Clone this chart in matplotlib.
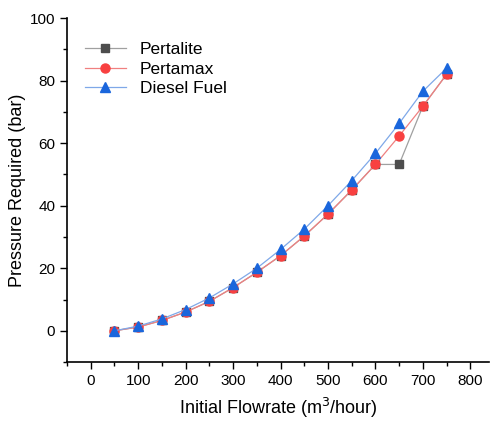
import matplotlib
matplotlib.use("Agg")
import matplotlib.pyplot as plt
from matplotlib.ticker import MultipleLocator

plt.rcParams['font.family'] = ['Liberation Sans', 'DejaVu Sans']

flowrate = [50, 100, 150, 200, 250, 300, 350, 400, 450, 500, 550, 600, 650, 700, 750]
pertalite = [0, 1.2, 3.3, 6.0, 9.4, 13.8, 18.7, 24.0, 30.3, 37.3, 45.0, 53.2, 53.2, 71.8, 82.0]
pertamax = [0, 1.2, 3.3, 6.0, 9.4, 13.8, 18.7, 24.0, 30.3, 37.3, 45.0, 53.2, 62.3, 71.8, 82.0]
diesel = [0, 1.5, 3.8, 6.8, 10.5, 15.0, 20.0, 26.0, 32.5, 40.0, 48.0, 56.7, 66.3, 76.6, 84.0]

fig = plt.figure(figsize=(4.91, 4.21), dpi=100)
ax = fig.add_axes([0.1365, 0.140, 0.86, 0.817])

ax.plot(flowrate, pertalite, color='#a0a0a0', lw=0.9, marker='s', ms=5.5,
        mfc='#4d4d4d', mec='#4d4d4d', label='Pertalite')
ax.plot(flowrate, pertamax, color='#f08080', lw=0.9, marker='o', ms=6.5,
        mfc='#f84040', mec='#f84040', label='Pertamax')
ax.plot(flowrate, diesel, color='#7fa8e8', lw=0.9, marker='^', ms=7,
        mfc='#1a66dc', mec='#1a66dc', label='Diesel Fuel')

ax.set_xlim(-50, 840)
ax.set_ylim(-10, 100)
ax.xaxis.set_minor_locator(MultipleLocator(50))
ax.yaxis.set_minor_locator(MultipleLocator(10))
ax.set_xticks([0, 100, 200, 300, 400, 500, 600, 700, 800])
ax.set_yticks([0, 20, 40, 60, 80, 100])

ax.spines['top'].set_visible(False)
ax.spines['right'].set_visible(False)
ax.spines['left'].set_linewidth(1.2)
ax.spines['bottom'].set_linewidth(1.2)
ax.tick_params(which='major', direction='out', length=5, width=1, labelsize=11)
ax.tick_params(which='minor', direction='out', length=3, width=1)

ax.set_xlabel('Initial Flowrate (m$^3$/hour)', fontsize=13, labelpad=6)
ax.set_ylabel('Pressure Required (bar)', fontsize=13, labelpad=3)

ax.legend(loc='upper left', bbox_to_anchor=(0.025, 0.95), frameon=False,
          fontsize=12.5, handlelength=2.4, labelspacing=0.25, borderaxespad=0)

fig.savefig('out.png', dpi=100)
